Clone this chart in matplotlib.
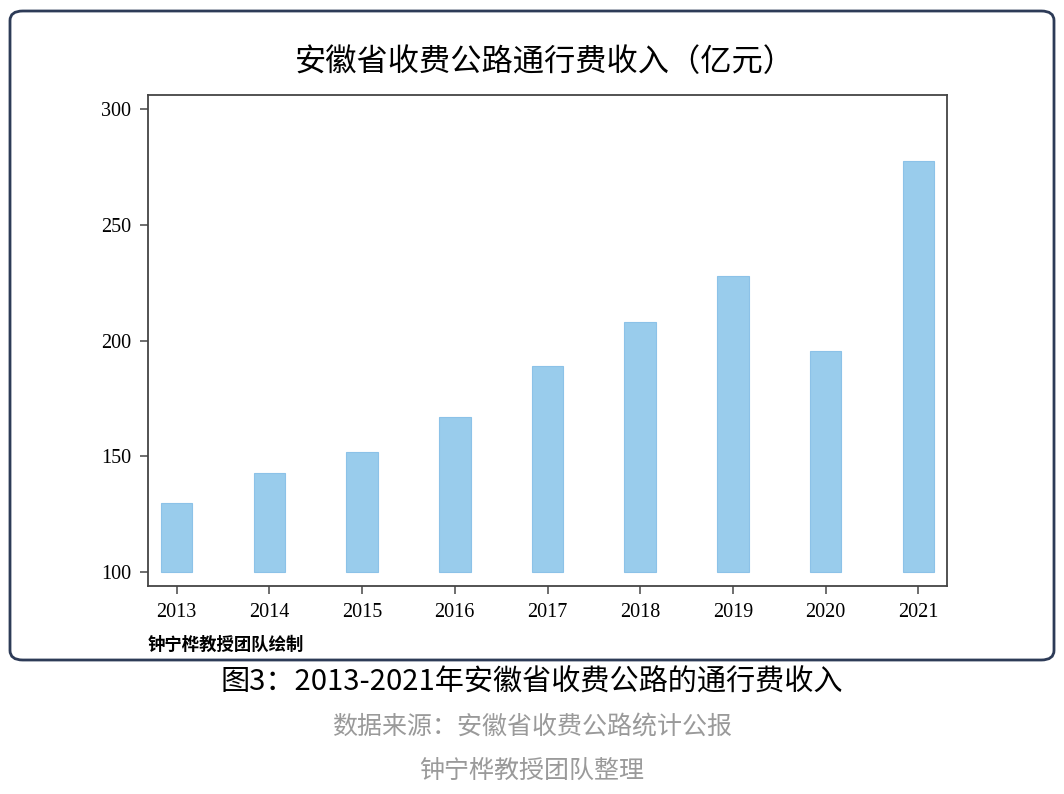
import matplotlib.pyplot as plt
from matplotlib.patches import FancyBboxPatch

plt.rcParams['font.family'] = ['Liberation Serif', 'Noto Sans CJK SC', 'DejaVu Sans']

# data
years = [2013, 2014, 2015, 2016, 2017, 2018, 2019, 2020, 2021]
income = [130, 143, 152, 167, 189, 208, 228, 195.5, 277.5]
base = 100
yticks = [100, 150, 200, 250, 300]

W, H = 1064, 794
fig = plt.figure(figsize=(W / 100, H / 100), dpi=100)

# rounded frame around the chart
box = FancyBboxPatch((10 / W, 1 - 660 / H), 1044 / W, 649 / H,
                     boxstyle="round,pad=0,rounding_size=0.012",
                     transform=fig.transFigure, facecolor='none',
                     edgecolor='#2d3b57', linewidth=2, zorder=-1)
fig.patches.append(box)

ax = fig.add_axes([148 / W, 1 - 586 / H, (947 - 148) / W, (586 - 95) / H])
heights = [v - base for v in income]
ax.bar(years, heights, bottom=base, width=0.34, color='#99ccec',
       edgecolor='#8cc2e8', linewidth=0.8)

ax.set_xlim(2012.69, 2021.31)
ax.set_ylim(94, 306)
ax.set_xticks(years)
ax.set_yticks(yticks)
ax.tick_params(direction='out', length=6, width=1.2, color='#555555',
               labelsize=14.5, pad=6)
for s in ax.spines.values():
    s.set_color('#444444')
    s.set_linewidth(1.3)

fig.text(545 / W, 1 - 62 / H, '安徽省收费公路通行费收入（亿元）',
         ha='center', va='center', fontsize=22.5, family='Noto Sans CJK SC')
fig.text(148 / W, 1 - 645 / H, '钟宁桦教授团队绘制', ha='left', va='center',
         fontsize=12.5, fontweight='bold', family='Noto Sans CJK SC')

fig.text(532 / W, 1 - 683 / H, '图3：2013-2021年安徽省收费公路的通行费收入',
         ha='center', va='center', fontsize=21, color='black',
         family=['Noto Sans CJK SC', 'DejaVu Sans'])
fig.text(532 / W, 1 - 727 / H, '数据来源：安徽省收费公路统计公报',
         ha='center', va='center', fontsize=18, color='#9a9a9a',
         family=['Noto Sans CJK SC', 'DejaVu Sans'])
fig.text(532 / W, 1 - 771 / H, '钟宁桦教授团队整理',
         ha='center', va='center', fontsize=18, color='#9a9a9a',
         family=['Noto Sans CJK SC', 'DejaVu Sans'])

fig.savefig('out.png', dpi=100)
